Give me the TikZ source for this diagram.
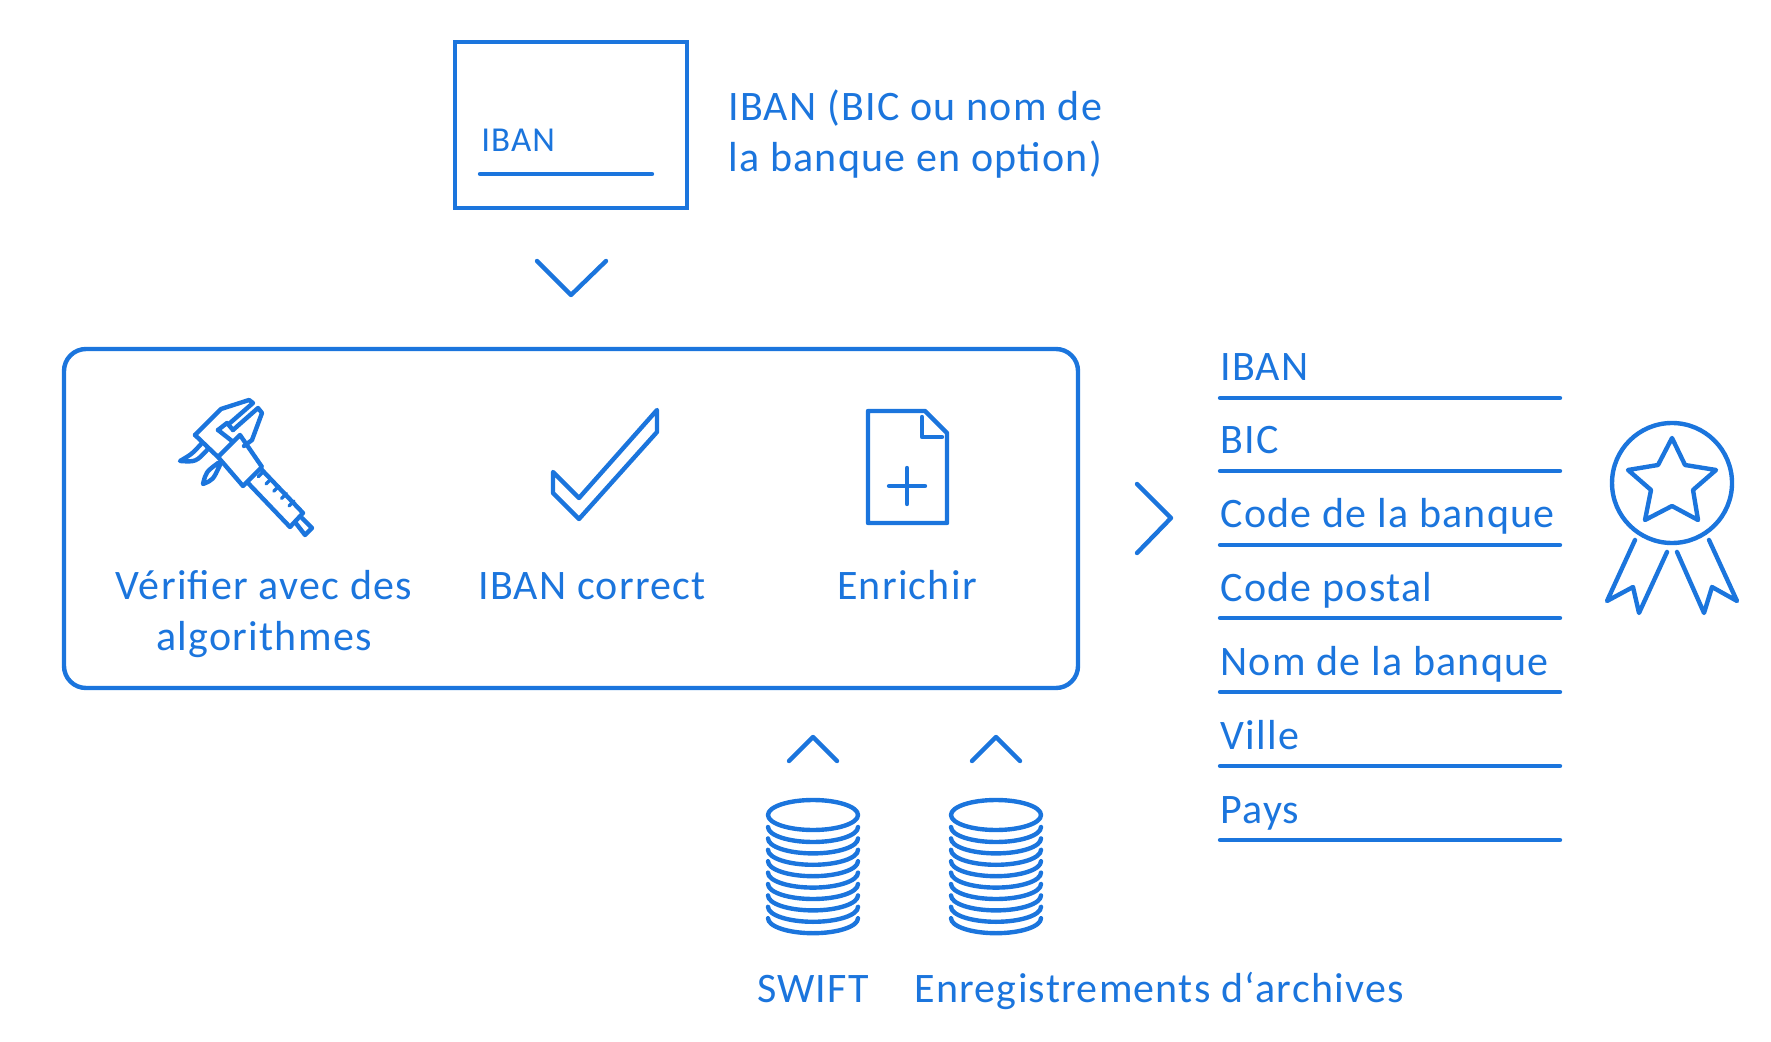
\documentclass[tikz,border=0pt]{standalone}
\usepackage{xcolor}
\usepackage{fontspec}
\setmainfont[LetterSpace=3]{Carlito}
\definecolor{ibanblue}{HTML}{1B75DD}
\tikzset{
  icon/.style={draw=ibanblue,line width=2.2pt,line join=round,line cap=round},
  label/.style={text=ibanblue,font=\fontsize{21}{25.5}\selectfont,inner sep=0pt,anchor=base west},
  centerlabel/.style={label,anchor=base,align=center},
  smalllabel/.style={label,font=\fontsize{17.5}{20}\selectfont},
}
\begin{document}
\begin{tikzpicture}[x=0.5pt,y=-0.5pt]
  \useasboundingbox (0,0) rectangle (1771,1042);
  % input card
  \draw[icon,line cap=butt,line join=miter] (455,42) rectangle (687,208);
  \node[smalllabel] (cardiban) at (481,152) {IBAN};
  \draw[icon] (480,174)--(652,174);
  \node[label,align=left,anchor=north west] (input) at (728,89) {IBAN (BIC ou nom de\\la banque en option)};
  \draw[icon] (537,261)--(571,295)--(606,261);
  % process box
  \draw[icon,rounded corners=11pt] (64,349) rectangle (1078,688);
  \node[centerlabel] (verify) at (264,650) {Vérifier avec des\\algorithmes};
  \node[label,anchor=base] (correct) at (592,599) {IBAN correct};
  \node[label,anchor=base] (enrich) at (907,599) {Enrichir};
  % caliper
  \draw[icon] (195,435)--(221,409)--(249,400)--(253,403)--(230,423);
  \draw[icon] (195,435)--(218,457)--(240,435)--(262,467)--(243,486)--(218,457);
  \draw[icon] (218,430)--(227,423)--(233,430);
  \draw[icon] (218,430)--(232,441);
  \draw[icon] (233,430)--(258,408)--(262,413)--(252,440)--(244,446);
  \draw[icon] (202,443) .. controls (192,454) .. (180,461) .. controls (196,462) .. (208,449);
  \draw[icon] (218,463) .. controls (206,472) .. (203,484) .. controls (213,480) .. (220,465);
  \draw[icon] (248,483)--(290,527)--(303,513)--(262,470);
  \draw[icon] (295,522)--(305,535)--(312,528)--(302,518);
  \foreach \t in {-1,0,1,2,3}
    \draw[icon,line width=1.6pt] ({271+\t*7.7},{479+\t*7.3})--++(-5,5);
  % checkmark
  \draw[icon] (553,472)--(579,498)--(657,410)--(657,432)--(579,519)--(553,493)--cycle;
  % document
  \draw[icon] (868,411)--(925,411)--(947,433)--(947,523)--(868,523)--cycle;
  \draw[icon] (922,417)--(922,437)--(942,437);
  \draw[icon] (889,486)--(925,486);
  \draw[icon] (907,468)--(907,504);
  % result list
  \draw[icon] (1137,484)--(1171,518)--(1137,553);
  \foreach \y/\name/\txt in {398/iban/IBAN,471/bic/BIC,545/code/Code de la banque,618/postal/Code postal,692/bank/Nom de la banque,766/city/Ville,840/country/Pays}{
    \node[label] (\name) at (1220,\y-17) {\txt};
    \coordinate (\name l) at (1220,\y);
    \coordinate (\name r) at (1560,\y);
    \draw[icon] (\name l)--(\name r);
  }
  % medal
  \draw[icon] (1672,483) circle[radius=60];
  \draw[icon] (1672,438)--(1685,465)--(1716,470)--(1693,490)--(1698,520)--(1672,506)--(1645,520)--(1651,490)--(1628,470)--(1658,465)--cycle;
  \draw[icon] (1635,540)--(1607,601)--(1633,587)--(1639,613)--(1667,552);
  \draw[icon] (1709,540)--(1737,601)--(1712,587)--(1704,613)--(1677,552);
  % sources
  \foreach \x in {813,996}{
    \draw[icon] (\x-24,761)--(\x,737)--(\x+24,761);
    \draw[icon] (\x,815) ellipse[x radius=45,y radius=15];
    \foreach \i in {0,...,8}
      \draw[icon] (\x-45,{827+\i*11.4}) arc[start angle=180,end angle=0,x radius=45,y radius=15];
  }
  \node[label,anchor=base] (swift) at (813,1002) {SWIFT};
  \node[label] (archive) at (914,1002) {Enregistrements d‘archives};
\end{tikzpicture}
\end{document}
